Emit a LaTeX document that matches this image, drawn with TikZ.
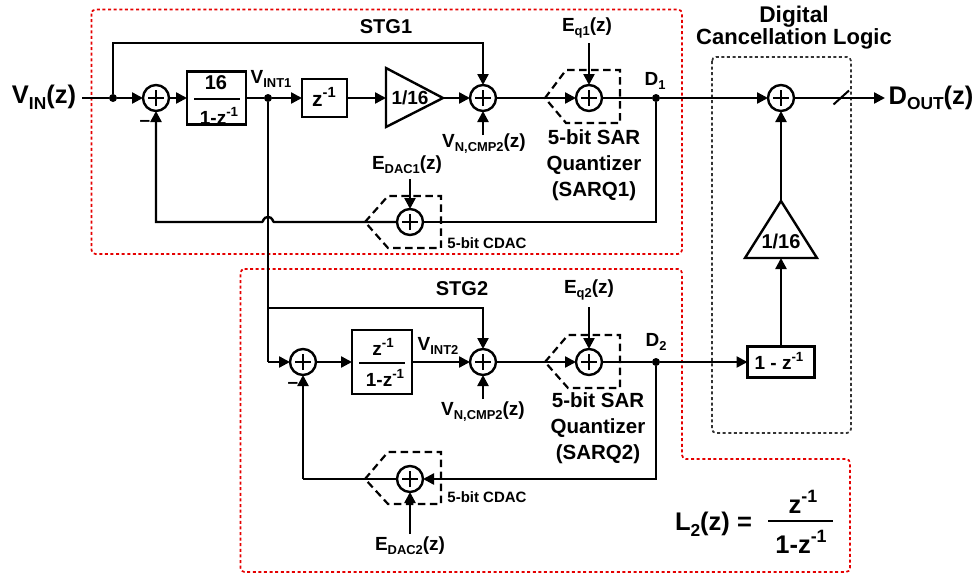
\documentclass[tikz,border=0pt]{standalone}
\usepackage{fontspec}
\usepackage{graphicx}
\setmainfont{Liberation Sans}[BoldFont={Liberation Sans Bold}]
\usetikzlibrary{arrows.meta,calc}
\newcommand{\sbs}[1]{\raisebox{-.22em}{\scalebox{.68}{#1}}}
\newcommand{\sps}[1]{\raisebox{.42em}{\scalebox{.7}{#1}}}
\newcommand{\fs}[1]{\fontsize{#1}{#1}\selectfont\bfseries}
\tikzset{
  x=1pt,y=-1pt,
  wire/.style={line width=2.4pt,draw=black},
  arr/.style={wire,-{Triangle[length=11pt,width=11pt]}},
  sumnode/.style={circle,draw=black,line width=2.4pt,minimum size=26pt,inner sep=0pt,outer sep=0pt,
    path picture={\draw[line width=2pt] (path picture bounding box.center) ++(-8pt,0) -- ++(16pt,0)
      (path picture bounding box.center) ++(0,-8pt) -- ++(0,16pt);}},
  dotnode/.style={circle,fill=black,minimum size=8pt,inner sep=0pt,outer sep=0pt},
  blk/.style={draw=black,line width=2.4pt,inner sep=0pt,outer sep=0pt,fill=white},
  tri/.style={draw=black,line width=2.4pt,line join=miter},
  dashbox/.style={line width=2.2pt,draw=black,dash pattern=on 7.5pt off 4.5pt},
  redbox/.style={line width=1.7pt,draw=red!90!black,dash pattern=on 3pt off 2.6pt,rounded corners=4pt},
  blackbox/.style={line width=1.7pt,draw=black!80,dash pattern=on 3pt off 2.6pt,rounded corners=4pt},
  lab/.style={inner sep=0pt,outer sep=0pt,font=\fs{19}},
  big/.style={inner sep=0pt,outer sep=0pt,font=\fs{25.5}},
  small/.style={inner sep=0pt,outer sep=0pt,font=\fs{15}},
  stack/.style={inner sep=0pt,outer sep=0pt,align=center,font=\fontsize{20.5}{26}\selectfont\bfseries},
}
\begin{document}
\begin{tikzpicture}
\useasboundingbox (0,0) rectangle (978,574);
% dotted frames
\draw[redbox] (91.5,9.5) rectangle (682,254);
\draw[redbox] (240.5,269) -- (682,269) -- (682,459) -- (850,459) -- (850,572) -- (240.5,572) -- cycle;
\draw[blackbox] (712,57) rectangle (851,433);

% nodes, stage 1
\coordinate (in) at (82,98);
\node[dotnode] (d0) at (113,98) {};
\node[sumnode] (s1) at (156,98) {};
\node[blk,minimum width=59pt,minimum height=53pt] (h1) at (216.5,98) {};
\node[dotnode] (d1) at (268,98) {};
\node[blk,minimum width=45pt,minimum height=38pt] (zd) at (324.5,98) {};
\coordinate (t1w) at (386,98);
\coordinate (t1e) at (443,98);
\node[sumnode] (s2) at (483,98) {};
\node[sumnode] (s3) at (589,98) {};
\node[dotnode] (D1) at (656,98) {};
\node[sumnode] (s4) at (781,98) {};
\coordinate (out) at (885,98);
\node[sumnode] (s5) at (410,222) {};
\coordinate (fb1) at (656,222);
\coordinate (fb2) at (156,222);
\coordinate (top1) at (113,43);
\coordinate (top2) at (483,43);
\coordinate (n1) at (483,135);
\coordinate (e1) at (589,43);
\coordinate (e2) at (410,179);

% nodes, stage 2
\node[sumnode] (s6) at (303,362) {};
\node[blk,minimum width=60pt,minimum height=64pt] (h2) at (382,362) {};
\node[sumnode] (s7) at (483,362) {};
\node[sumnode] (s8) at (589,362) {};
\node[dotnode] (D2) at (656,362) {};
\node[blk,minimum width=67pt,minimum height=31pt] (ck) at (781,362) {};
\node[sumnode] (s9) at (410,479) {};
\coordinate (c2) at (268,362);
\coordinate (b1) at (268,308);
\coordinate (b2) at (483,308);
\coordinate (n2) at (483,399);
\coordinate (e3) at (589,307);
\coordinate (e4) at (410,534);
\coordinate (fb3) at (656,479);
\coordinate (fb4) at (303,479);
\coordinate (t2b) at (781,258);
\coordinate (t2a) at (781,201);

% connectors, stage 1
\draw[wire] (in) -- (d0);
\draw[arr] (d0) -- (s1);
\draw[arr] (s1) -- (h1);
\draw[wire] (h1) -- (d1);
\draw[arr] (d1) -- (zd);
\draw[arr] (zd) -- (t1w);
\draw[arr] (t1e) -- (s2);
\draw[arr] (s2) -- (s3);
\draw[wire] (s3) -- (D1);
\draw[arr] (D1) -- (s4);
\draw[arr] (s4) -- (out);
\draw[wire,line width=2pt] (833.5,104.5) -- (849,90.5);
\draw[arr] (d0) -- (top1) -- (top2) -- (s2);
\draw[arr] (n1) -- (s2);
\draw[arr] (e1) -- (s3);
\draw[arr] (e2) -- (s5);
\draw[wire] (D1) -- (fb1) -- (s5);
\draw[arr] (s5) -- (274,222) .. controls (272.5,222) and (273,217) .. (268,217) .. controls (263,217) and (263.5,222) .. (262,222) -- (fb2) -- (s1);
\draw[wire] (d1) -- (c2);

% triangles
\draw[tri] (386,68) -- (443,98) -- (386,127) -- cycle;
\draw[tri] (745,258) -- (781,201) -- (817,258) -- cycle;

% connectors, stage 2
\draw[arr] (c2) -- (s6);
\draw[arr] (s6) -- (h2);
\draw[arr] (h2) -- (s7);
\draw[arr] (b1) -- (b2) -- (s7);
\draw[arr] (n2) -- (s7);
\draw[arr] (s7) -- (s8);
\draw[arr] (e3) -- (s8);
\draw[wire] (s8) -- (D2);
\draw[arr] (D2) -- (ck);
\draw[arr] (ck) -- (t2b);
\draw[arr] (t2a) -- (s4);
\draw[arr] (D2) -- (fb3) -- (s9);
\draw[wire] (s9) -- (fb4);
\draw[arr] (fb4) -- (s6);
\draw[arr] (e4) -- (s9);

% dashed quantizer and DAC outlines
\draw[dashbox] (545,98) -- (566,70) -- (620,70) -- (620,123) -- (566,123) -- cycle;
\draw[dashbox] (365,222) -- (388,196) -- (441,196) -- (441,248) -- (388,248) -- cycle;
\draw[dashbox] (545,362) -- (568,335) -- (620,335) -- (620,388) -- (568,388) -- cycle;
\draw[dashbox] (365,479) -- (388,452) -- (441,452) -- (441,504) -- (388,504) -- cycle;

% fraction bars
\draw[wire] (194,99) -- (240,99);
\draw[wire] (359,363) -- (405,363);
\draw[wire] (768,521) -- (833,521);

% labels
\node[big] (tvin) at (44,97) {V\sbs{IN}(z)};
\node[big] (tdout) at (931,98) {D\sbs{OUT}(z)};
\node[lab,font=\fs{20}] (tstg1) at (386,27) {STG1};
\node[lab,font=\fs{20}] (tstg2) at (462,289) {STG2};
\node[lab,font=\fs{22},align=center] (tdcl) at (794,28) {\fontsize{22.7}{27}\selectfont\bfseries Digital\\Cancellation Logic};
\node[lab] (tvint1) at (271,79) {V\sbs{INT1}};
\node[lab] (tvint2) at (438,346) {V\sbs{INT2}};
\node[lab,font=\fs{20}] (t16) at (216,83) {16};
\node[lab] (tden1) at (219,116) {1-z\sps{-1}};
\node[lab,font=\fs{21}] (tzd) at (324,97) {z\sps{-1}};
\node[lab] (t116a) at (410,98) {1/16};
\node[lab,font=\fs{20}] (t116b) at (781,241) {1/16};
\node[lab] (tnum2) at (383,347) {z\sps{-1}};
\node[lab] (tden2) at (385,378) {1-z\sps{-1}};
\node[lab] (tck) at (779,361) {1 - z\sps{-1}};
\node[lab] (tn1) at (484,144) {V\sbs{N,CMP2}(z)};
\node[lab] (tn2) at (483,412) {V\sbs{N,CMP2}(z)};
\node[lab] (teq1) at (587,28) {E\sbs{q1}(z)};
\node[lab] (teq2) at (589,290) {E\sbs{q2}(z)};
\node[lab] (ted1) at (407,165) {E\sbs{DAC1}(z)};
\node[lab] (ted2) at (410,546) {E\sbs{DAC2}(z)};
\node[lab] (tD1) at (655,81) {D\sbs{1}};
\node[lab] (tD2) at (656,342) {D\sbs{2}};
\node[lab] (tm1) at (145,123) {–};
\node[lab] (tm2) at (293,385) {–};
\node[stack] (tq1) at (594,165) {5-bit SAR\\Quantizer\\(SARQ1)};
\node[stack] (tq2) at (598,428) {5-bit SAR\\Quantizer\\(SARQ2)};
\node[small] (tc1) at (487,243) {5-bit CDAC};
\node[small] (tc2) at (487,497) {5-bit CDAC};
\node[big,anchor=west] (tl2) at (675,524) {L\sbs{2}(z) =};
\node[big] (tln) at (803,502) {z\sps{-1}};
\node[big] (tld) at (801,542) {1-z\sps{-1}};
\end{tikzpicture}
\end{document}
